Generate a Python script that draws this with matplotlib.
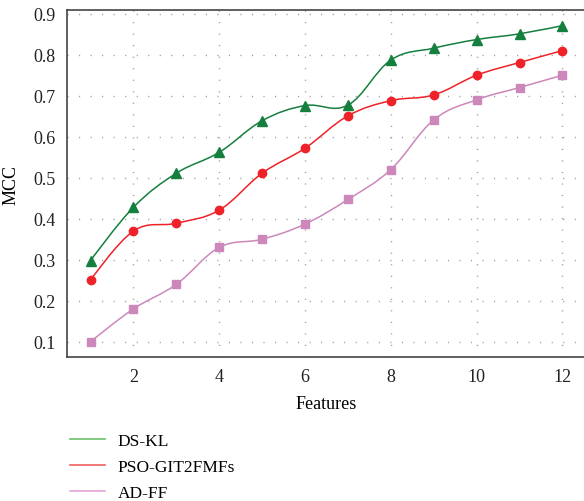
import numpy as np
import matplotlib
matplotlib.use("Agg")
import matplotlib.pyplot as plt
from matplotlib.path import Path
from matplotlib.patches import PathPatch
from matplotlib.lines import Line2D

plt.rcParams["font.family"] = ["Liberation Serif", "DejaVu Serif"]

# data
features = [1, 2, 3, 4, 5, 6, 7, 8, 9, 10, 11, 12]
ds_kl = [0.298, 0.428, 0.511, 0.562, 0.639, 0.676, 0.677, 0.787, 0.816, 0.837, 0.851, 0.871]
pso_git2fmfs = [0.25, 0.37, 0.389, 0.421, 0.511, 0.572, 0.651, 0.688, 0.702, 0.75, 0.781, 0.81]
ad_ff = [0.10, 0.18, 0.24, 0.33, 0.35, 0.387, 0.447, 0.52, 0.641, 0.69, 0.72, 0.75]

names = ["DS-KL", "PSO-GIT2FMFs", "AD-FF"]
y_ticks = [0.1, 0.2, 0.3, 0.4, 0.5, 0.6, 0.7, 0.8, 0.9]
x_ticks = [2, 4, 6, 8, 10, 12]

styles = [
    dict(color="#15803d", marker="^", ms=7.2, legend="#6cbf6c"),
    dict(color="#ee2228", marker="o", ms=6.0, legend="#f06060"),
    dict(color="#cc88bb", marker="s", ms=6.3, legend="#e4a6d8"),
]


def smooth_path(x, y, tension=0.55):
    """Bezier path through the points, like a TikZ 'smooth' plot."""
    pts = np.column_stack([x, y]).astype(float)
    n = len(pts)
    k = tension / 3.0
    verts = [pts[0]]
    codes = [Path.MOVETO]
    for i in range(n - 1):
        p0 = pts[max(i - 1, 0)]
        p1, p2 = pts[i], pts[i + 1]
        p3 = pts[min(i + 2, n - 1)]
        c1 = p1 + k * (p2 - p0) if i > 0 else p1
        c2 = p2 - k * (p3 - p1) if i + 1 < n - 1 else p2
        verts += [c1, c2, p2]
        codes += [Path.CURVE4] * 3
    return Path(verts, codes)


fig = plt.figure(figsize=(5.84, 5.02), dpi=100)
ax = fig.add_axes([0.1147, 0.2869, 0.8887, 0.6911])

for vals, st in zip([ds_kl, pso_git2fmfs, ad_ff], styles):
    ax.add_patch(PathPatch(smooth_path(features, vals), fill=False,
                           edgecolor=st["color"], lw=1.1, zorder=3))
    ax.plot(features, vals, ls="none", marker=st["marker"], ms=st["ms"],
            color=st["color"], mec=st["color"], zorder=4)

ax.set_xlim(0.45, 12.55)
ax.set_ylim(0.0627, 0.909)
ax.set_xticks(x_ticks)
ax.set_yticks(y_ticks)
ax.set_yticklabels([f"{v:.1f}" for v in y_ticks])
ax.tick_params(length=0, labelsize=13, pad=8, colors="#222222")
ax.grid(True, color="#999999", lw=1.0, ls=(0, (0.8, 7.5)))
for s in ax.spines.values():
    s.set_color("#444444")
    s.set_linewidth(1.2)

ax.set_xlabel("Features", fontsize=13, labelpad=7)
ax.set_ylabel("MCC", fontsize=13, labelpad=10)

handles = [Line2D([], [], color=st["legend"], lw=1.2) for st in styles]
fig.legend(handles, names, loc="upper left", bbox_to_anchor=(0.108, 0.15),
           frameon=False, fontsize=12.5, handlelength=2.0, handletextpad=0.75,
           labelspacing=0.58, borderaxespad=0)

fig.savefig("out.png", dpi=100)
